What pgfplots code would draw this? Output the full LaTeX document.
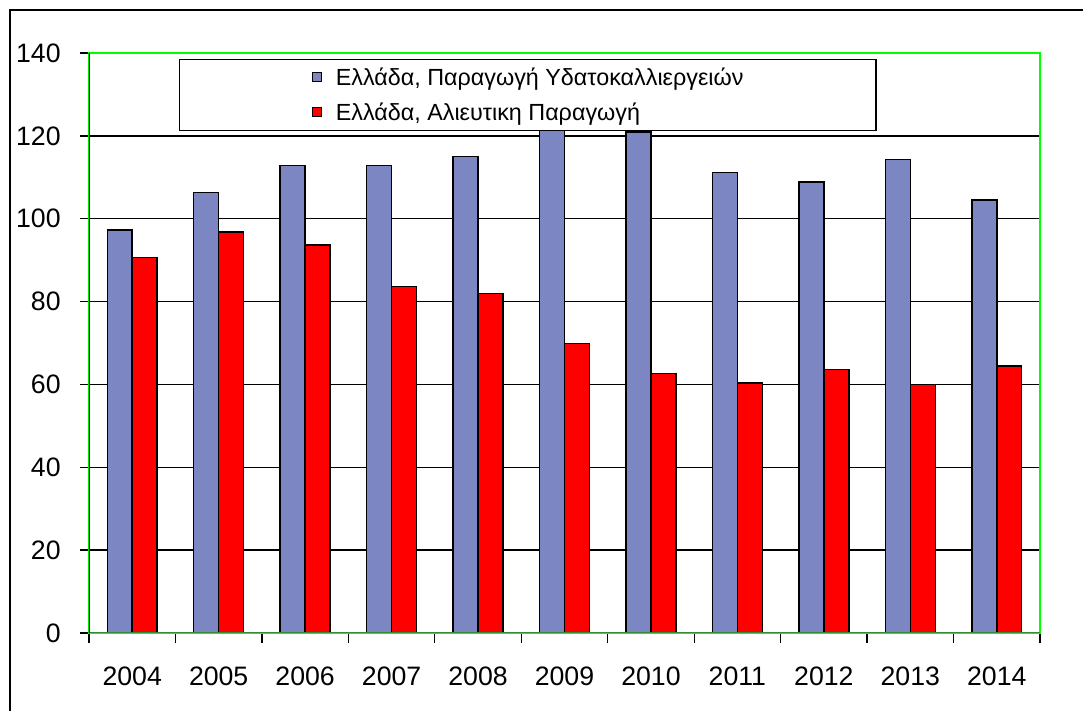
\documentclass[border=0pt]{standalone}
\usepackage{pgfplots}
\pgfplotsset{compat=1.18}
\usepackage{fontspec}
\setmainfont{Liberation Sans}
\definecolor{barblue}{RGB}{124,134,194}
\definecolor{barred}{RGB}{255,0,0}
\definecolor{brightgreen}{RGB}{0,255,0}
\definecolor{darkgr}{RGB}{10,50,10}
\definecolor{midgr}{RGB}{50,140,50}
\begin{document}
\begin{tikzpicture}
\path[use as bounding box] (-66.75pt,-58.5pt) rectangle (745.5pt,474.75pt);
\draw[line width=1.5pt] (-59.25pt,-70pt) -- (-59.25pt,467.25pt) -- (760pt,467.25pt);
\begin{axis}[
  at={(0,0)}, anchor=south west,
  width=713.25pt, height=435pt, scale only axis,
  xmin=-0.5, xmax=10.5, ymin=0, ymax=140,
  ytick={0,20,...,140},
  xtick={0,...,10},
  xticklabels={2004,2005,2006,2007,2008,2009,2010,2011,2012,2013,2014},
  minor xtick={-0.5,0.5,...,10.5},
  xtick pos=left, ytick pos=left,
  tick align=outside,
  major tick length=6.75pt,
  minor tick length=7.5pt,
  major x tick style={draw=none},
  minor x tick style={black, line width=1pt},
  ytick style={black, line width=1pt},
  ymajorgrids,
  grid style={black, line width=1.1pt},
  axis line style={brightgreen, line width=1.2pt},
  tick label style={font=\fontsize{20}{24}\selectfont},
  yticklabel style={xshift=-11pt},
  xticklabel style={yshift=-15pt},
  /pgf/number format/assume math mode=true,
  ybar, bar width=0.289,
  legend style={at={(0.0946,0.9897)}, anchor=north west,
    draw=black, line width=1.1pt, fill=white,
    inner xsep=99.5pt, inner ysep=5.5pt,
    font=\fontsize{17.5}{20}\selectfont, row sep=10.25pt, column sep=0pt,
    nodes={inner sep=0pt, text height=14pt, text depth=2pt, anchor=base west}},
  legend cell align=left,
  legend image code/.code={\draw[#1, line width=0.7pt] (0pt,2.9pt) rectangle (6.75pt,9.65pt); \path[draw=none, fill=none] (0pt,0pt) -- (17.25pt,0pt);},
]
\addplot[fill=barblue, draw=black, line width=1.1pt, bar shift=-0.1445] coordinates {
(0,97.3) (1,106.3) (2,112.9) (3,112.8) (4,115.0) (5,121.5) (6,120.9) (7,111.2) (8,108.9) (9,114.3) (10,104.5)};
\addplot[fill=barred, draw=black, line width=1.1pt, bar shift=0.1445] coordinates {
(0,90.6) (1,96.8) (2,93.7) (3,83.7) (4,82.0) (5,69.9) (6,62.7) (7,60.4) (8,63.6) (9,60.0) (10,64.4)};
\legend{Ελλάδα{,} Παραγωγή Υδατοκαλλιεργειών, Ελλάδα{,} Αλιευτικη Παραγωγή}
\draw[midgr, line width=1.2pt] (rel axis cs:0,0) -- (rel axis cs:1,0);
\draw[darkgr, line width=1.2pt] (rel axis cs:0,0) -- (rel axis cs:0,1);
\end{axis}
\end{tikzpicture}
\end{document}
